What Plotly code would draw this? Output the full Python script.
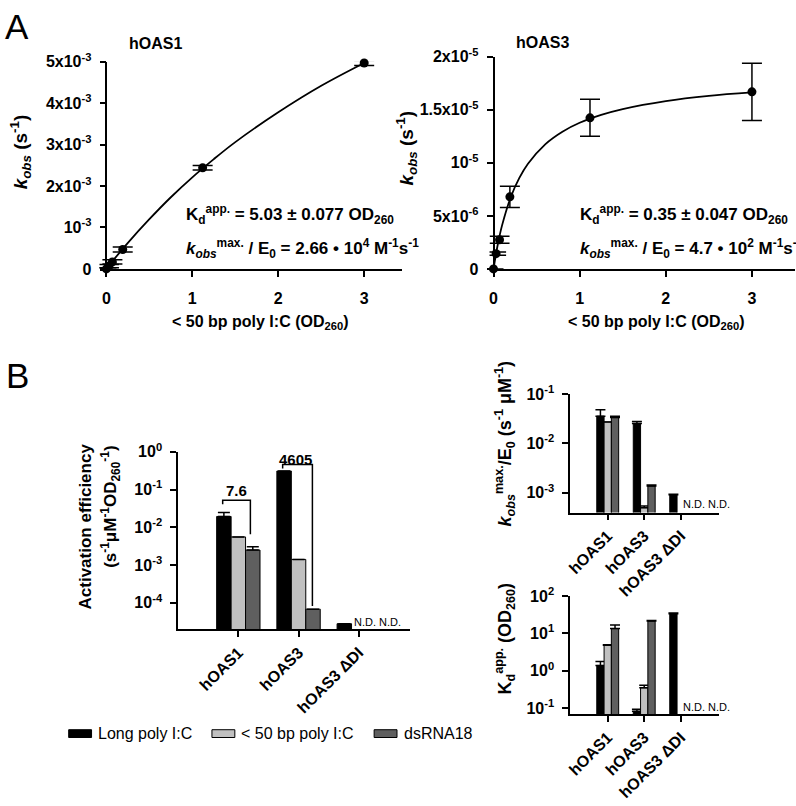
import plotly.graph_objects as go

FONT = "Liberation Sans, Arial, Helvetica, sans-serif"
W, H = 796, 806


def px(x):
    return x / W


def py(y):
    return 1 - y / H


# ---------------- Panel A data ----------------
conc = [0, 0.03, 0.07, 0.19, 1.12, 3.0]
oas1_kobs = [0, 0.07e-3, 0.17e-3, 0.47e-3, 2.44e-3, 4.97e-3]
oas1_err = [0.03e-3, 0.04e-3, 0.05e-3, 0.06e-3, 0.055e-3, 0.06e-3]
oas3_kobs = [0, 1.44e-6, 2.75e-6, 6.8e-6, 1.425e-5, 1.67e-5]
oas3_err = [0, 0.15e-6, 0.33e-6, 1.0e-6, 0.175e-5, 0.27e-5]

fit1_x = [0, 0.1, 0.25, 0.5, 0.75, 1.0, 1.25, 1.5, 2.0, 2.5, 3.0]
fit1_y = [0, 0.26e-3, 0.63e-3, 1.20e-3, 1.73e-3, 2.21e-3, 2.65e-3, 3.06e-3, 3.78e-3, 4.42e-3, 4.97e-3]
fit3_x = [0, 0.05, 0.1, 0.2, 0.3, 0.4, 0.6, 0.8, 1.0, 1.25, 1.5, 2.0, 2.5, 3.0]
fit3_y = [0, 0.233e-5, 0.413e-5, 0.676e-5, 0.858e-5, 0.992e-5, 1.175e-5, 1.294e-5, 1.378e-5,
          1.453e-5, 1.508e-5, 1.583e-5, 1.632e-5, 1.664e-5]

oas1_ticks = [0, 1e-3, 2e-3, 3e-3, 4e-3, 5e-3]
oas1_ticktext = ["0", "10<sup>-3</sup>", "2x10<sup>-3</sup>", "3x10<sup>-3</sup>", "4x10<sup>-3</sup>", "5x10<sup>-3</sup>"]
oas3_ticks = [0, 5e-6, 1e-5, 1.5e-5, 2e-5]
oas3_ticktext = ["0", "5x10<sup>-6</sup>", "10<sup>-5</sup>", "1.5x10<sup>-5</sup>", "2x10<sup>-5</sup>"]
conc_ticks = [0, 1, 2, 3]

# ---------------- Panel B data ----------------
categories = ["hOAS1", "hOAS3", "hOAS3 ΔDI"]
series_names = ["Long poly I:C", "< 50 bp poly I:C", "dsRNA18"]

eff_long = [0.0194, 0.31, 2.8e-5]
eff_short = [0.00555, 0.00141, None]
eff_ds = [0.0025, 6.8e-5, None]
eff_long_err = [0.0051, 0, 0]
eff_short_err = [0, 0, 0]
eff_ds_err = [0.00056, 0, 0]

kmax_long = [0.0355, 0.0253, 9.1e-4]
kmax_short = [0.0272, 5.0e-4, None]
kmax_ds = [0.0333, 1.37e-3, None]
kmax_long_err = [0.0125, 0.0024, 2e-5]
kmax_short_err = [0, 0.4e-4, 0]
kmax_ds_err = [0.0022, 0.07e-3, 0]

kd_long = [1.39, 0.082, 33.8]
kd_short = [4.8, 0.35, None]
kd_ds = [13.5, 21.4, None]
kd_long_err = [0.38, 0.012, 1.5]
kd_short_err = [0.2, 0.06, 0]
kd_ds_err = [3.3, 0.8, 0]

# fold-difference brackets (category units, values)
bracket1_x = [-0.26, -0.26, 0.2, 0.2]
bracket1_y = [0.041, 0.052, 0.052, 0.0065]
bracket2_x = [0.736, 0.736, 1.23, 1.23]
bracket2_y = [0.363, 0.46, 0.46, 8.3e-5]
fold_labels = ["7.6", "4605"]

eff_ticks = [1e-4, 1e-3, 1e-2, 1e-1, 1]
eff_ticktext = ["10<sup>-4</sup>", "10<sup>-3</sup>", "10<sup>-2</sup>", "10<sup>-1</sup>", "10<sup>0</sup>"]
kmax_ticks = [1e-3, 1e-2, 1e-1]
kmax_ticktext = ["10<sup>-3</sup>", "10<sup>-2</sup>", "10<sup>-1</sup>"]
kd_ticks = [1e-1, 1, 10, 100]
kd_ticktext = ["10<sup>-1</sup>", "10<sup>0</sup>", "10<sup>1</sup>", "10<sup>2</sup>"]

colors = ["#000000", "#c0c0c0", "#5f5f5f"]

fig = go.Figure()

# ---- Panel A ----
for xa, ya, yv, ev, fx, fy in [("x", "y", oas1_kobs, oas1_err, fit1_x, fit1_y),
                               ("x2", "y2", oas3_kobs, oas3_err, fit3_x, fit3_y)]:
    fig.add_trace(go.Scatter(x=fx, y=fy, mode="lines", line=dict(color="black", width=1.8, shape="spline"),
                             xaxis=xa, yaxis=ya, showlegend=False, hoverinfo="skip", cliponaxis=False))
    fig.add_trace(go.Scatter(x=conc, y=yv, mode="markers",
                             marker=dict(color="black", size=9),
                             error_y=dict(type="data", array=ev, color="black", thickness=1.5, width=10),
                             xaxis=xa, yaxis=ya, showlegend=False, cliponaxis=False))

# ---- Panel B bars ----
xpos = list(range(len(categories)))


def add_bars(xa, ya, vals, errs, offsets, width, capw):
    for i, (v, e) in enumerate(zip(vals, errs)):
        fig.add_trace(go.Bar(
            x=xpos, y=v, name=series_names[i], offset=offsets[i], width=width,
            marker=dict(color=colors[i], line=dict(color="black", width=1)),
            error_y=dict(type="data", array=e, arrayminus=[0] * len(e), symmetric=False,
                         color="black", thickness=1.5, width=capw),
            xaxis=xa, yaxis=ya, showlegend=False))


add_bars("x3", "y3", [eff_long, eff_short, eff_ds], [eff_long_err, eff_short_err, eff_ds_err],
         [-0.36, -0.12, 0.12], 0.24, 6)
add_bars("x4", "y4", [kmax_long, kmax_short, kmax_ds], [kmax_long_err, kmax_short_err, kmax_ds_err],
         [-0.3, -0.1, 0.1], 0.2, 5)
add_bars("x5", "y5", [kd_long, kd_short, kd_ds], [kd_long_err, kd_short_err, kd_ds_err],
         [-0.3, -0.1, 0.1], 0.2, 5)

for bx, by in [(bracket1_x, bracket1_y), (bracket2_x, bracket2_y)]:
    fig.add_trace(go.Scatter(x=bx, y=by, mode="lines", line=dict(color="black", width=1.5),
                             xaxis="x3", yaxis="y3", showlegend=False, hoverinfo="skip", cliponaxis=False))

# ---- axes ----
tickfont = dict(family=FONT, size=16, color="black", weight="bold")
catfont = dict(family=FONT, size=16, color="black", weight="bold")
common = dict(showgrid=False, zeroline=False, showline=True, linecolor="black", linewidth=1.6,
              ticks="outside", ticklen=6, tickwidth=1.6, tickcolor="black")

fig.update_layout(
    width=W, height=H, margin=dict(l=0, r=0, t=0, b=0),
    paper_bgcolor="white", plot_bgcolor="rgba(0,0,0,0)",
    barmode="overlay", showlegend=False,
    font=dict(family=FONT, color="black"),
    xaxis=dict(domain=[px(96), px(400)], range=[-0.08, 3.44], anchor="y", tickvals=conc_ticks,
               ticklabelstandoff=8, tickfont=tickfont, **common),
    yaxis=dict(domain=[py(264.5), py(52)], range=[0, 5e-3], anchor="free", position=px(103),
               tickvals=oas1_ticks, ticktext=oas1_ticktext, ticklabelstandoff=5, tickfont=tickfont, **common),
    xaxis2=dict(domain=[px(488), px(795)], range=[-0.046, 3.5], anchor="y2", tickvals=conc_ticks,
                ticklabelstandoff=8, tickfont=tickfont, **common),
    yaxis2=dict(domain=[py(264.5), py(47)], range=[0, 2e-5], anchor="free", position=px(492),
                tickvals=oas3_ticks, ticktext=oas3_ticktext, ticklabelstandoff=5, tickfont=tickfont, **common),
    xaxis3=dict(domain=[px(175), px(408)], range=[-1.0, 2.85], anchor="y3", tickvals=xpos,
                ticktext=categories, tickangle=-45, tickfont=catfont, **common),
    yaxis3=dict(domain=[py(634), py(452)], type="log", range=[-4.70, 0], anchor="x3",
                tickvals=eff_ticks, ticktext=eff_ticktext, ticklabelstandoff=5, tickfont=tickfont, **common),
    xaxis4=dict(domain=[px(569), px(719)], range=[-1.03, 3.06], anchor="y4", tickvals=xpos,
                ticktext=categories, tickangle=-45, tickfont=catfont, **common),
    yaxis4=dict(domain=[py(514.3), py(392.7)], type="log", range=[-3.40, -1], anchor="x4",
                tickvals=kmax_ticks, ticktext=kmax_ticktext, ticklabelstandoff=5, tickfont=tickfont, **common),
    xaxis5=dict(domain=[px(569), px(719)], range=[-1.03, 3.06], anchor="y5", tickvals=xpos,
                ticktext=categories, tickangle=-45, tickfont=catfont, **common),
    yaxis5=dict(domain=[py(721), py(600)], type="log", range=[-1.16, 2], anchor="x5",
                tickvals=kd_ticks, ticktext=kd_ticktext, ticklabelstandoff=5, tickfont=tickfont, **common),
)

ann = []


def A(text, x, y, size=16, xanchor="center", yanchor="middle", angle=0, xref="paper", yref="paper"):
    ann.append(dict(text=text, x=x, y=y, xref=xref, yref=yref, showarrow=False, xanchor=xanchor,
                    yanchor=yanchor, textangle=angle, font=dict(family=FONT, size=size, color="black")))


# panel letters
A("A", px(-1), py(16), size=35, xanchor="left")
A("B", px(0), py(374), size=35, xanchor="left")
# titles
A("<b>hOAS1</b>", px(152), py(33), size=16)
A("<b>hOAS3</b>", px(541), py(32), size=16)
# axis titles panel A
kobs_title = "<b><i>k</i><sub><i>obs</i></sub> (s<sup>-1</sup>)</b>"
A(kobs_title, px(17), py(144), size=19, angle=-90)
A(kobs_title, px(405), py(140), size=19, angle=-90)
xt = "<b>< 50 bp poly I:C (OD<sub>260</sub>)</b>"
A(xt, px(257), py(319), size=16)
A(xt, px(655), py(319), size=16)
# fit parameters
A("<b>K<sub>d</sub><sup>app.</sup> = 5.03 ± 0.077 OD<sub>260</sub></b>", px(181), py(209), size=17, xanchor="left")
A("<b><i>k</i><sub><i>obs</i></sub><sup>max.</sup> / E<sub>0</sub> = 2.66 • 10<sup>4</sup> M<sup>-1</sup>s<sup>-1</sup></b>",
  px(181), py(244), size=17, xanchor="left")
A("<b>K<sub>d</sub><sup>app.</sup> = 0.35 ± 0.047 OD<sub>260</sub></b>", px(577), py(209), size=17, xanchor="left")
A("<b><i>k</i><sub><i>obs</i></sub><sup>max.</sup> / E<sub>0</sub> = 4.7 • 10<sup>2</sup> M<sup>-1</sup>s<sup>-1</sup></b>",
  px(577), py(244), size=17, xanchor="left")
# panel B axis titles
A("<b>Activation efficiency</b>", px(82), py(529), size=17, angle=-90)
A("<b>(s<sup>-1</sup>μM<sup>-1</sup>OD<sub>260</sub><sup>-1</sup>)</b>", px(107), py(508), size=17, angle=-90)
A("<b><i>k</i><sub><i>obs</i></sub><sup>max.</sup>/E<sub>0</sub> (s<sup>-1</sup> μM<sup>-1</sup>)</b>", px(503), py(443), size=18, angle=-90)
A("<b>K<sub>d</sub><sup>app.</sup> (OD<sub>260</sub>)</b>", px(503), py(643), size=18, angle=-90)
# fold labels
A("<b>" + fold_labels[0] + "</b>", -0.03, -1.026, size=15, xref="x3", yref="y3")
A("<b>" + fold_labels[1] + "</b>", 0.95, -0.207, size=15, xref="x3", yref="y3")
# N.D.
A("N.D. N.D.", px(375), py(627), size=11)
A("N.D. N.D.", px(706), py(506), size=11)
A("N.D. N.D.", px(706), py(714), size=11)

# legend
shapes = []
leg_x = [(65, 92), (209, 236), (372, 400)]
for i, (sx, tx) in enumerate(leg_x):
    shapes.append(dict(type="rect", xref="paper", yref="paper", x0=px(sx), x1=px(sx + 23),
                       y0=py(745), y1=py(737), fillcolor=colors[i], line=dict(color="black", width=1)))
    A(series_names[i], px(tx), py(741), size=16, xanchor="left")

fig.update_layout(annotations=ann, shapes=shapes)
fig.write_html("out.html", config={"displayModeBar": False},
               post_script="document.body.style.margin='0';")
